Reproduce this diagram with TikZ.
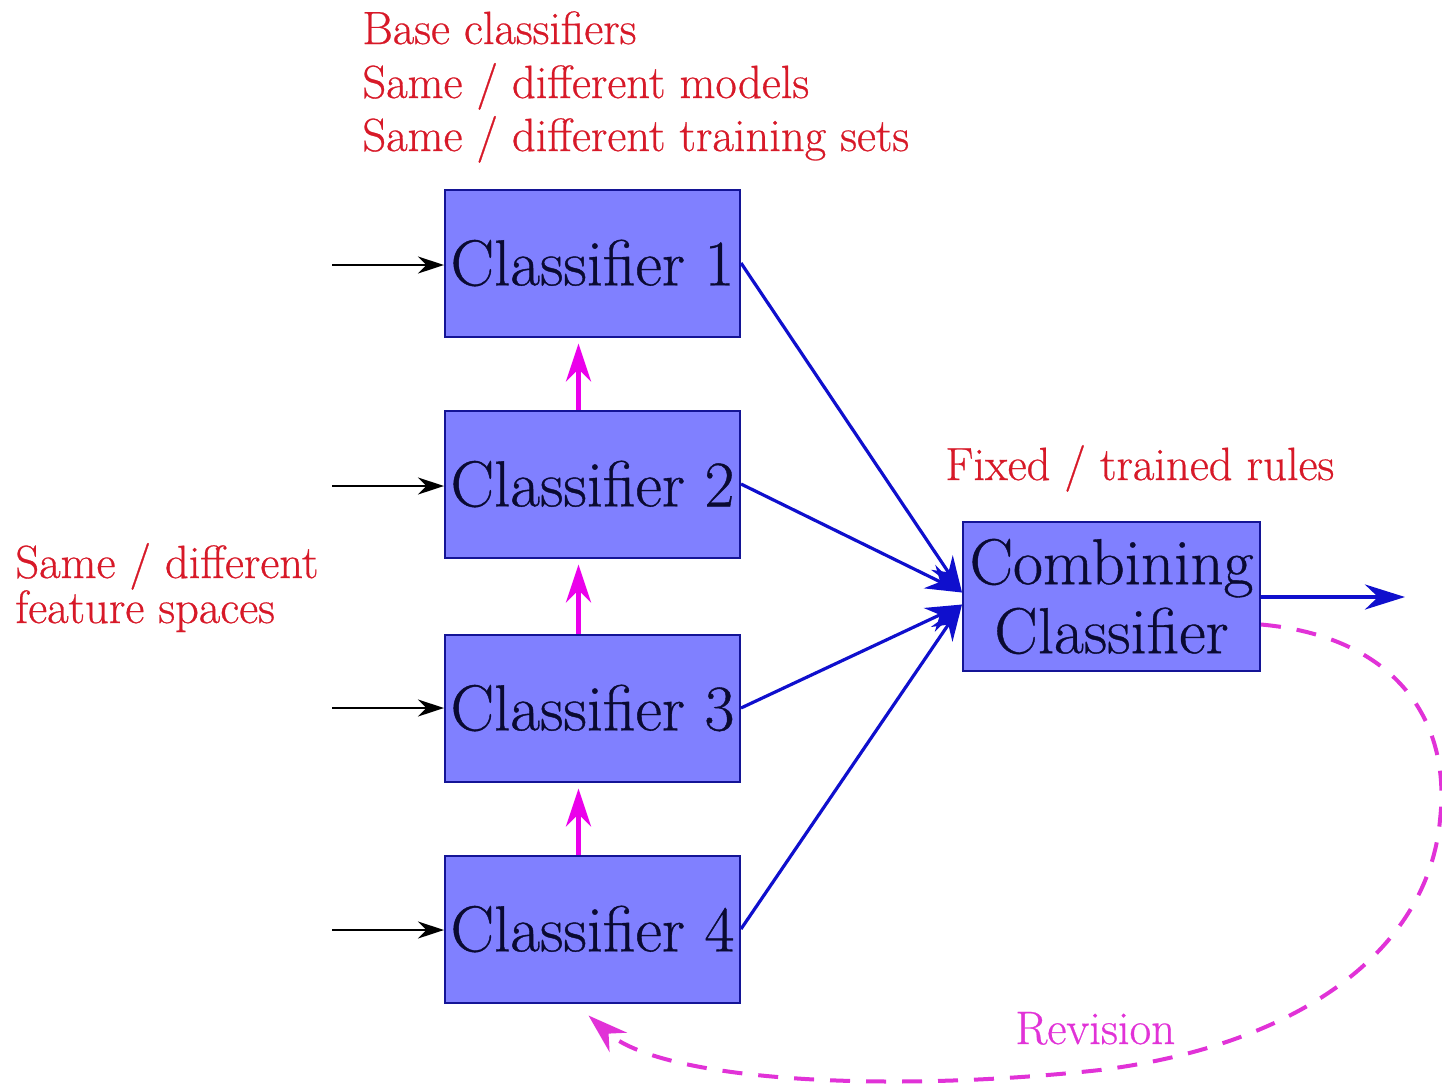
\documentclass[tikz,border=0pt]{standalone}
\usepackage{fontspec}
\newfontfamily\heavyrm{Latin Modern Roman}[FakeBold=0.6]
\usetikzlibrary{arrows.meta}
\definecolor{boxfill}{RGB}{128,128,255}
\definecolor{boxline}{RGB}{20,20,150}
\definecolor{labred}{RGB}{215,25,40}
\definecolor{mag}{RGB}{235,0,235}
\definecolor{magdash}{RGB}{225,50,215}
\definecolor{linkblue}{RGB}{15,15,205}
\definecolor{boxtext}{RGB}{10,10,50}
\begin{document}
\begin{tikzpicture}[x=0.5pt,y=-0.5pt,
  clsbox/.style={draw=boxline, line width=1pt, fill=boxfill, minimum width=147.5pt,
     minimum height=73.5pt, inner sep=0pt, text=boxtext, align=center,
     font=\heavyrm\fontsize{32.5}{34.5}\selectfont},
  redlab/.style={text=labred, font=\heavyrm\fontsize{23.3}{26}\selectfont, inner sep=0pt, anchor=base west},
  revlab/.style={text=magdash, font=\heavyrm\fontsize{23.5}{26}\selectfont, inner sep=0pt, anchor=base west},
  inarrow/.style={draw=black, line width=1pt, -{Stealth[length=13pt,width=8.5pt]}},
  uparrow/.style={draw=mag, line width=2.3pt, -{Stealth[length=19pt,width=12.5pt]}, shorten >=3pt},
  bluelink/.style={draw=linkblue, line width=1.6pt, -{Stealth[length=18pt,width=13pt]}},
  outarrow/.style={draw=linkblue, line width=2pt, -{Stealth[length=20pt,width=12.5pt]}},
  revarrow/.style={draw=magdash, line width=2pt, dash pattern=on 10pt off 8pt,
     -{Stealth[length=20pt,width=13pt]}}
]
\useasboundingbox (0,0) rectangle (1442,1089);

% boxes
\node[clsbox] (c1) at (592.5,263) {Classifier 1};
\node[clsbox] (c2) at (592.5,484) {Classifier 2};
\node[clsbox] (c3) at (592.5,708) {Classifier 3};
\node[clsbox] (c4) at (592.5,929) {Classifier 4};
\node[clsbox, minimum width=148.5pt, minimum height=74.5pt] (comb) at (1111.5,596.5) {Combining\\Classifier};

% labels
\node[redlab] (b1) at (362,44) {Base classifiers};
\node[redlab] (b2) at (362,98) {Same / different models};
\node[redlab] (b3) at (362,151) {Same / different training sets};
\node[redlab] (fx) at (945,480) {Fixed / trained rules};
\node[redlab] (f1) at (15,578) {Same / different};
\node[redlab] (f2) at (15,623) {feature spaces};
\node[revlab] (rev) at (1015,1044) {Revision};

% inputs
\coordinate (in1) at (332,265);
\coordinate (in2) at (332,486);
\coordinate (in3) at (332,708);
\coordinate (in4) at (332,930);
\draw[inarrow] (in1) -- (in1 -| c1.west);
\draw[inarrow] (in2) -- (in2 -| c2.west);
\draw[inarrow] (in3) -- (in3 -| c3.west);
\draw[inarrow] (in4) -- (in4 -| c4.west);

% magenta vertical arrows
\draw[uparrow] ([xshift=-7pt]c2.north) -- ([xshift=-7pt]c1.south);
\draw[uparrow] ([xshift=-7pt]c3.north) -- ([xshift=-7pt]c2.south);
\draw[uparrow] ([xshift=-7pt]c4.north) -- ([xshift=-7pt]c3.south);

% blue links
\draw[bluelink] (c1.east) -- ([yshift=2pt]comb.west);
\draw[bluelink] (c2.east) -- ([yshift=2pt]comb.west);
\draw[bluelink] (c3.east) -- ([yshift=-4pt]comb.west);
\draw[bluelink] (c4.east) -- ([yshift=-4pt]comb.west);

% output
\coordinate (out) at (1405,597);
\draw[outarrow] (comb.east |- out) -- (out);

% revision
\draw[revarrow] ([yshift=-14pt]comb.east)
  .. controls (1390,636) and (1452,715) .. (1440,820)
  .. controls (1428,950) and (1300,1045) .. (1100,1070)
  .. controls (880,1094) and (660,1080) .. ([shift={(-2pt,-6pt)}]c4.south);
\end{tikzpicture}
\end{document}
